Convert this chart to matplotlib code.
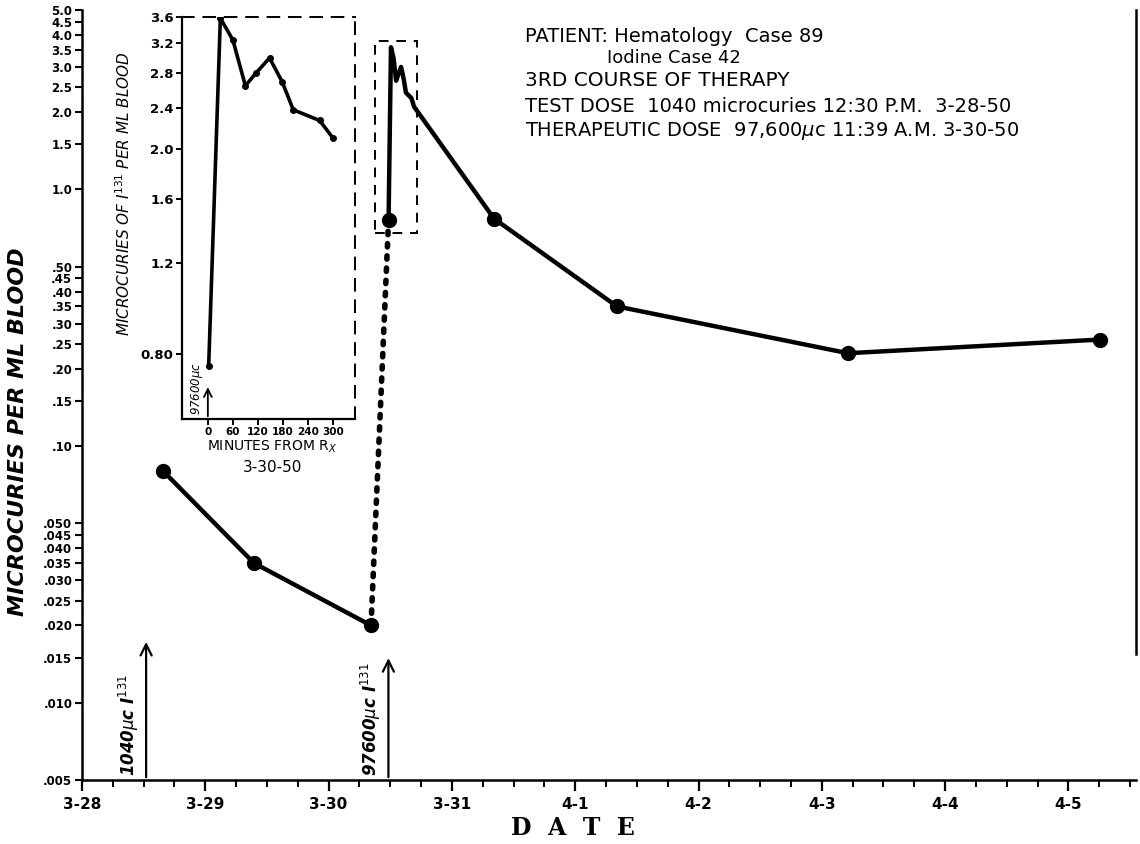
import matplotlib
matplotlib.use("Agg")
import matplotlib.pyplot as plt
from matplotlib.patches import Rectangle
from matplotlib.ticker import FixedLocator, FixedFormatter, NullLocator

# --- data (days counted from 3-28 00:00) ---
date_labels = ['3-28', '3-29', '3-30', '3-31', '4-1', '4-2', '4-3', '4-4', '4-5']
y_ticks = [5.0, 4.5, 4.0, 3.5, 3.0, 2.5, 2.0, 1.5, 1.0,
           0.50, 0.45, 0.40, 0.35, 0.30, 0.25, 0.20, 0.15, 0.10,
           0.050, 0.045, 0.040, 0.035, 0.030, 0.025, 0.020, 0.015, 0.010, 0.005]
y_tick_labels = ['5.0', '4.5', '4.0', '3.5', '3.0', '2.5', '2.0', '1.5', '1.0',
                 '.50', '.45', '.40', '.35', '.30', '.25', '.20', '.15', '.10',
                 '.050', '.045', '.040', '.035', '.030', '.025', '.020', '.015', '.010', '.005']

test_dose_day = 0.52        # 12:30 PM 3-28
therapy_dose_day = 2.485    # 11:39 AM 3-30

pre_days = [0.657, 1.395, 2.344]
pre_vals = [0.080, 0.035, 0.020]

inset_minutes = [2, 30, 60, 90, 115, 148, 178, 205, 268, 300]
inset_vals = [0.76, 3.58, 3.25, 2.65, 2.80, 3.00, 2.70, 2.38, 2.27, 2.10]

post_days = [3.341, 4.339, 6.212, 8.256]
post_vals = [0.77, 0.35, 0.23, 0.26]

inset_y_ticks = [3.6, 3.2, 2.8, 2.4, 2.0, 1.6, 1.2, 0.80]
inset_y_labels = ['3.6', '3.2', '2.8', '2.4', '2.0', '1.6', '1.2', '0.80']
inset_x_ticks = [0, 60, 120, 180, 240, 300]

W, H = 1140, 844
fig = plt.figure(figsize=(W / 100, H / 100), dpi=100)
fig.patch.set_facecolor('white')

ax = fig.add_axes([82 / W, 1 - 780 / H, (1136 - 82) / W, (780 - 10) / H])
ax.set_yscale('log')
ax.set_xlim(0, (1136 - 82) / 123.3)
ax.set_ylim(0.005, 5.0)

ax.yaxis.set_major_locator(FixedLocator(y_ticks))
ax.yaxis.set_major_formatter(FixedFormatter(y_tick_labels))
ax.yaxis.set_minor_locator(NullLocator())
ax.set_xticks(range(len(date_labels)))
ax.set_xticklabels(date_labels)
ax.set_xticks([i * 0.25 for i in range(35)], minor=True)
ax.tick_params(axis='y', direction='out', length=5, width=1.5, labelsize=8.5, pad=2)
ax.tick_params(axis='x', which='major', direction='out', length=8, width=1.6, labelsize=11, pad=4)
ax.tick_params(axis='x', which='minor', direction='out', length=5, width=1.4)
for lab in ax.get_xticklabels() + ax.get_yticklabels():
    lab.set_fontweight('bold')

ax.spines['top'].set_visible(False)
for s in ['left', 'bottom', 'right']:
    ax.spines[s].set_linewidth(1.8)
ax.spines['right'].set_bounds(0.0155, 5.0)

# main curve
ax.plot(pre_days, pre_vals, '-', color='black', lw=3.2)
ax.plot(pre_days, pre_vals, 'o', color='black', ms=10)

post_x = [therapy_dose_day + m / 1440 for m in inset_minutes] + post_days
post_y = inset_vals + post_vals
ax.plot(post_x, post_y, '-', color='black', lw=3.2, solid_joinstyle='round')
ax.plot([post_x[0]] + post_days, [post_y[0]] + post_vals, 'o', color='black', ms=10)

ax.plot([pre_days[-1], post_x[0]], [pre_vals[-1], post_y[0]], color='black', lw=4,
        linestyle=(0, (0.6, 1.6)), dash_capstyle='round')

ax.add_patch(Rectangle((2.376, 0.674), 2.716 - 2.376, 3.77 - 0.674, fill=False,
                       ec='black', lw=1.4, ls=(0, (5, 4))))

# dose arrows
ax.annotate('', xy=(test_dose_day, 0.0177), xytext=(test_dose_day, 0.005),
            arrowprops=dict(arrowstyle='->', lw=1.6, color='black', mutation_scale=20))
ax.text(test_dose_day - 0.04, 0.0052, '1040$\\mu$c I$^{131}$', rotation=90,
        ha='right', va='bottom', fontsize=12, style='italic', fontweight='bold')
ax.annotate('', xy=(therapy_dose_day, 0.0153), xytext=(therapy_dose_day, 0.005),
            arrowprops=dict(arrowstyle='->', lw=1.6, color='black', mutation_scale=20))
ax.text(therapy_dose_day - 0.04, 0.0052, '97600$\\mu$c I$^{131}$', rotation=90,
        ha='right', va='bottom', fontsize=12, style='italic', fontweight='bold')

# labels
fig.text(18 / W, 1 - 432 / H, 'MICROCURIES PER ML BLOOD', rotation=90, ha='center', va='center',
         fontsize=16, fontweight='bold', style='italic')
fig.text(573 / W, 1 - 828 / H, 'D  A  T  E', ha='center', va='center', fontsize=17,
         fontweight='bold', family='DejaVu Serif')

# header text
hdr = [(525, 37, 'PATIENT: Hematology  Case 89', 14),
       (607, 58, 'Iodine Case 42', 13),
       (525, 81, '3RD COURSE OF THERAPY', 14.5),
       (525, 107, 'TEST DOSE  1040 microcuries 12:30 P.M.  3-28-50', 14),
       (525, 131, 'THERAPEUTIC DOSE  97,600$\\mu$c 11:39 A.M. 3-30-50', 14)]
for x, y, t, fs in hdr:
    fig.text(x / W, 1 - y / H, t, ha='left', va='center', fontsize=fs)

# inset
axi = fig.add_axes([182 / W, 1 - 419 / H, (355 - 182) / W, (419 - 17) / H])
axi.set_facecolor('white')
axi.set_yscale('log')
axi.set_xlim(-62, 353)
axi.set_ylim(0.60, 3.6)
axi.yaxis.set_major_locator(FixedLocator(inset_y_ticks))
axi.yaxis.set_major_formatter(FixedFormatter(inset_y_labels))
axi.yaxis.set_minor_locator(NullLocator())
axi.set_xticks(inset_x_ticks)
axi.tick_params(axis='y', direction='out', length=4, width=1.4, labelsize=9.5, pad=2)
axi.tick_params(axis='x', direction='out', length=4, width=1.4, labelsize=7.5, pad=2)
for lab in axi.get_xticklabels() + axi.get_yticklabels():
    lab.set_fontweight('bold')
for s in ['left', 'bottom']:
    axi.spines[s].set_linewidth(1.6)
for s in ['top', 'right']:
    axi.spines[s].set_linewidth(1.4)
    axi.spines[s].set_linestyle((0, (6, 5)))

axi.plot(inset_minutes, inset_vals, '-', color='black', lw=2.6, solid_joinstyle='round')
axi.plot(inset_minutes, inset_vals, 'o', color='black', ms=4)
axi.annotate('', xy=(0, 0.70), xytext=(0, 0.60),
             arrowprops=dict(arrowstyle='->', lw=1.3, color='black', mutation_scale=14))
axi.text(-6, 0.61, '97600$\\mu$c', rotation=90, ha='right', va='bottom', fontsize=8.5,
         style='italic')
axi.set_ylabel('MICROCURIES OF I$^{131}$ PER ML BLOOD', style='italic', fontsize=11)
axi.yaxis.set_label_coords(-(182 - 133) / 173, 0.56)

fig.text(272 / W, 1 - 447 / H, 'MINUTES FROM R$_X$', ha='center', va='center', fontsize=10)
fig.text(272 / W, 1 - 467 / H, '3-30-50', ha='center', va='center', fontsize=11)

fig.savefig('out.png', dpi=100, facecolor='white')
